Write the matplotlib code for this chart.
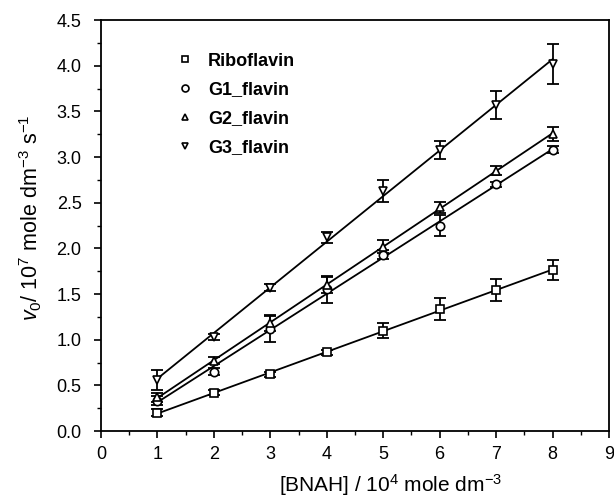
import numpy as np
import matplotlib
matplotlib.use("Agg")
import matplotlib.pyplot as plt
from matplotlib.ticker import MultipleLocator

plt.rcParams['font.family'] = ['Liberation Sans', 'DejaVu Sans']
plt.rcParams['mathtext.fontset'] = 'custom'
plt.rcParams['mathtext.rm'] = 'Liberation Sans'
plt.rcParams['mathtext.it'] = 'Liberation Sans:italic'

# [BNAH] / 10^4 mole dm^-3
bnah = [1, 2, 3, 4, 5, 6, 7, 8]

ribo = [0.20, 0.42, 0.62, 0.86, 1.10, 1.34, 1.54, 1.76]
ribo_err = [0.04, 0.03, 0.03, 0.03, 0.08, 0.12, 0.12, 0.11]

g1 = [0.33, 0.65, 1.12, 1.55, 1.93, 2.25, 2.70, 3.08]
g1_err = [0.05, 0.04, 0.15, 0.15, 0.05, 0.12, 0.03, 0.04]

g2 = [0.37, 0.77, 1.18, 1.60, 2.02, 2.45, 2.85, 3.25]
g2_err = [0.05, 0.04, 0.08, 0.09, 0.07, 0.06, 0.05, 0.08]

g3 = [0.56, 1.03, 1.57, 2.12, 2.63, 3.08, 3.57, 4.02]
g3_err = [0.11, 0.03, 0.04, 0.06, 0.12, 0.10, 0.15, 0.22]

series = [
    ("Riboflavin", ribo, ribo_err, "s"),
    ("G1_flavin", g1, g1_err, "o"),
    ("G2_flavin", g2, g2_err, "^"),
    ("G3_flavin", g3, g3_err, "v"),
]

fig = plt.figure(figsize=(6.14, 4.98), dpi=100)
ax = fig.add_axes([0.1645, 0.1345, 0.8274, 0.8253])

x = np.array(bnah)
handles = []
for name, y, err, m in series:
    y = np.array(y)
    # linear fit line
    k, b = np.polyfit(x, y, 1)
    ax.plot(x, k * x + b, color='black', lw=1.3, zorder=2)
    ax.errorbar(x, y, yerr=err, fmt='none', ecolor='black', elinewidth=1.3,
                capsize=4, capthick=1.3, zorder=3)
    h, = ax.plot(x, y, linestyle='none', marker=m, markersize=6,
                 markerfacecolor='white', markeredgecolor='black',
                 markeredgewidth=1.2, zorder=4, label=name)
    handles.append(h)

ax.set_xlim(0, 9)
ax.set_ylim(0, 4.5)
ax.xaxis.set_major_locator(MultipleLocator(1))
ax.xaxis.set_minor_locator(MultipleLocator(0.5))
ax.yaxis.set_major_locator(MultipleLocator(0.5))
ax.yaxis.set_minor_locator(MultipleLocator(0.25))
ax.yaxis.set_major_formatter(matplotlib.ticker.FormatStrFormatter('%.1f'))
ax.tick_params(which='major', direction='out', length=5, width=1.2,
               labelsize=13, pad=6, top=False, right=False)
ax.tick_params(axis='y', which='major', pad=9)
ax.tick_params(which='minor', direction='out', length=3, width=1.0,
               top=False, right=False)
for s in ax.spines.values():
    s.set_linewidth(1.3)

ax.set_xlabel(r'[BNAH] / 10$^4$ mole dm$^{-3}$', fontsize=15, labelpad=2)
ax.xaxis.set_label_coords(0.57, -0.1)
ax.set_ylabel(r'$v_0$/ 10$^7$ mole dm$^{-3}$ s$^{-1}$', fontsize=15.5)
ax.yaxis.set_label_coords(-0.112, 0.52)

leg = ax.legend(handles=handles, loc='upper left', bbox_to_anchor=(0.115, 0.96),
                frameon=False, handlelength=1.0, handletextpad=0.8,
                labelspacing=0.65, prop={'weight': 'bold', 'size': 13})
for lh in leg.legend_handles:
    lh.set_markersize(5)

fig.savefig("out.png", dpi=100)
